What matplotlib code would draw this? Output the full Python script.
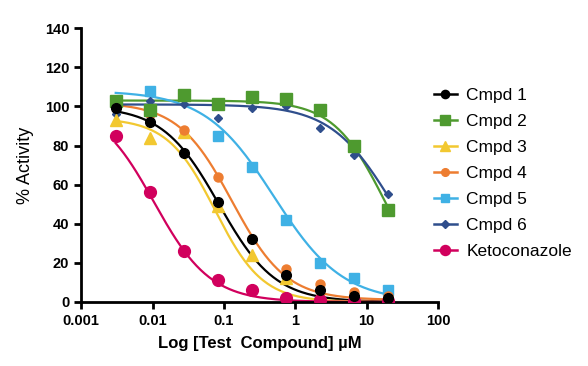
import numpy as np
import matplotlib
matplotlib.use("Agg")
import matplotlib.pyplot as plt
from matplotlib.ticker import FixedLocator, FixedFormatter, NullLocator

plt.rcParams['font.family'] = ['Liberation Sans', 'DejaVu Sans']

# concentrations (uM), 3-fold dilutions
conc = [0.00305, 0.00914, 0.0274, 0.0823, 0.247, 0.741, 2.22, 6.67, 20.0]

names = ["Cmpd 1", "Cmpd 2", "Cmpd 3", "Cmpd 4", "Cmpd 5", "Cmpd 6", "Ketoconazole"]
cmpd1 = [99, 92, 76, 51, 32, 14, 6, 3, 2]
cmpd2 = [103, 98, 106, 101, 105, 104, 98, 80, 47]
cmpd3 = [93, 84, 87, 49, 24, 12, 4, 2, 1]
cmpd4 = [101, 96, 88, 64, 32, 17, 9, 5, 3]
cmpd5 = [103, 108, 106, 85, 69, 42, 20, 12, 6]
cmpd6 = [96, 103, 101, 94, 99, 100, 89, 75, 55]
keto = [85, 56, 26, 11, 6, 2, 1, 0.5, 0.5]

# fitted 4PL parameters: top, bottom, IC50, hill
fits = [
    (100, 0, 0.085, 1.1),
    (103, 0, 18.0, 1.2),
    (94, 0, 0.075, 1.3),
    (102, 1, 0.13, 1.15),
    (108, 0, 0.5, 0.9),
    (101, 0, 23.0, 1.0),
    (102, 0, 0.0105, 1.1),
]

colors = ["#000000", "#4e9a2f", "#f2c830", "#ed7d31", "#3fb1e5", "#2f4e8c", "#d1005d"]
markers = ["o", "s", "^", "o", "s", "D", "o"]
msizes = [7, 9, 9, 6.5, 7, 4.5, 8.5]
zorders = [6, 5, 4, 4, 3, 3, 4]

series = [cmpd1, cmpd2, cmpd3, cmpd4, cmpd5, cmpd6, keto]

fig = plt.figure(figsize=(5.88, 3.66), dpi=100)
ax = fig.add_axes([0.138, 0.175, 0.607, 0.748])

xs = np.logspace(np.log10(conc[0]), np.log10(conc[-1]), 200)
for name, ys, fp, c, m, ms, z in zip(names, series, fits, colors, markers, msizes, zorders):
    top, bot, ic50, h = fp
    curve = bot + (top - bot) / (1 + (xs / ic50) ** h)
    ax.plot(xs, curve, color=c, lw=1.6, zorder=2)
    ax.plot(conc, ys, linestyle="none", marker=m, color=c, markersize=ms, zorder=z)
    ax.plot([], [], color=c, marker=m, markersize=ms * 0.85, lw=1.8, label=name)

ax.set_xscale("log")
ax.set_xlim(0.001, 100)
ax.set_ylim(0, 140)
ax.set_yticks(range(0, 141, 20))
ax.xaxis.set_major_locator(FixedLocator([0.001, 0.01, 0.1, 1, 10, 100]))
ax.xaxis.set_major_formatter(FixedFormatter(["0.001", "0.01", "0.1", "1", "10", "100"]))
ax.xaxis.set_minor_locator(NullLocator())

for s in ["top", "right"]:
    ax.spines[s].set_visible(False)
for s in ["left", "bottom"]:
    ax.spines[s].set_linewidth(2)
ax.tick_params(width=2, length=5, labelsize=10.5)
for lab in ax.get_xticklabels() + ax.get_yticklabels():
    lab.set_fontweight("bold")

ax.set_xlabel("Log [Test  Compound] \u00b5M", fontsize=12, fontweight="bold", labelpad=6)
ax.set_ylabel("% Activity", fontsize=13, labelpad=8)

ax.legend(loc="center left", bbox_to_anchor=(0.945, 0.47), frameon=False,
          fontsize=12.5, handlelength=1.3, handletextpad=0.55, labelspacing=0.62)

fig.savefig("out.png", dpi=100)
